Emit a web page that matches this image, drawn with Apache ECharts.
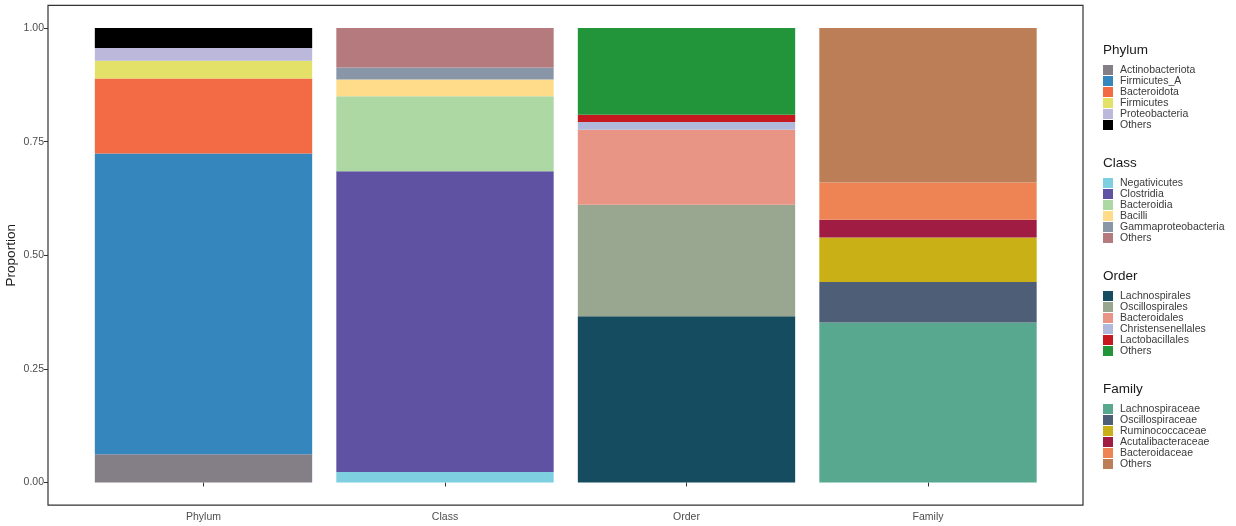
<!DOCTYPE html>
<html>
<head>
<meta charset="utf-8">
<script src="https://cdn.jsdelivr.net/npm/echarts@6/dist/echarts.min.js"></script>
<style>
  html, body { margin: 0; padding: 0; background: #fff; }
  #chart { width: 1236px; height: 526px; }
</style>
</head>
<body>
<div id="chart"></div>
<script>
// 分类
const categories = ['Phylum', 'Class', 'Order', 'Family']
const yTicks = [0, 0.25, 0.5, 0.75, 1]

// 各层级的名称与比例（自下而上）
const phylumNames = ['Actinobacteriota', 'Firmicutes_A', 'Bacteroidota', 'Firmicutes', 'Proteobacteria', 'Others']
const phylumValues = [0.062, 0.662, 0.165, 0.039, 0.028, 0.044]
const classNames = ['Negativicutes', 'Clostridia', 'Bacteroidia', 'Bacilli', 'Gammaproteobacteria', 'Others']
const classValues = [0.023, 0.662, 0.165, 0.037, 0.026, 0.087]
const orderNames = ['Lachnospirales', 'Oscillospirales', 'Bacteroidales', 'Christensenellales', 'Lactobacillales', 'Others']
const orderValues = [0.366, 0.245, 0.165, 0.017, 0.016, 0.191]
const familyNames = ['Lachnospiraceae', 'Oscillospiraceae', 'Ruminococcaceae', 'Acutalibacteraceae', 'Bacteroidaceae', 'Others']
const familyValues = [0.352, 0.089, 0.098, 0.039, 0.082, 0.340]

// 颜色
const phylumColors = ['#847f86', '#3586bd', '#f26b45', '#e4e169', '#bcb8dc', '#000000']
const classColors = ['#7ecfe0', '#6052a2', '#add8a3', '#fedc8a', '#8996a8', '#b47a7e']
const orderColors = ['#164c5f', '#9aa790', '#e89585', '#b0b8dc', '#c5181f', '#22953a']
const familyColors = ['#57a88f', '#4f5e77', '#c8b016', '#a11c43', '#ee8454', '#bc7e56']

const levels = [
  { key: 'Phylum', names: phylumNames, values: phylumValues, colors: phylumColors, top: 43 },
  { key: 'Class', names: classNames, values: classValues, colors: classColors, top: 156 },
  { key: 'Order', names: orderNames, values: orderValues, colors: orderColors, top: 269 },
  { key: 'Family', names: familyNames, values: familyValues, colors: familyColors, top: 382 }
]

let series = []
let legends = []
let titles = []
levels.forEach((lv, li) => {
  lv.names.forEach((n, i) => {
    let data = categories.map((c, ci) => ci === li ? lv.values[i] : '-')
    series.push({
      name: lv.key + '|' + n,
      type: 'bar',
      stack: 'all',
      barWidth: '90%',
      itemStyle: { color: lv.colors[i] },
      emphasis: { disabled: true },
      data: data
    })
  })
  legends.push({
    orient: 'vertical',
    left: 1103,
    top: lv.top + 21.5,
    itemWidth: 10,
    itemHeight: 10,
    itemGap: 0,
    icon: 'rect',
    selectedMode: false,
    padding: 0,
    data: lv.names.map(n => lv.key + '|' + n),
    formatter: name => name.split('|')[1],
    textStyle: { fontSize: 10.5, color: '#3a3a3a', lineHeight: 10, padding: [0, 0, 0, 2], fontFamily: 'Liberation Sans' }
  })
  titles.push({
    text: lv.key,
    left: 1103,
    top: lv.top,
    padding: 0,
    textStyle: { fontSize: 13.5, fontWeight: 'normal', color: '#1a1a1a', fontFamily: 'Liberation Sans' }
  })
})

let chart = echarts.init(document.getElementById('chart'))
chart.setOption({
  animation: false,
  backgroundColor: '#fff',
  title: titles,
  legend: legends,
  grid: { left: 82.75, right: 187.25, top: 5.3, bottom: 20.8, containLabel: false, outerBoundsMode: 'none' },
  xAxis: {
    type: 'category',
    data: categories,
    axisLine: { show: false },
    axisTick: { show: true, alignWithLabel: true, length: 4, lineStyle: { color: '#333' } },
    axisLabel: { color: '#4d4d4d', fontSize: 10.5, margin: 6, fontFamily: 'Liberation Sans' }
  },
  yAxis: {
    type: 'value',
    min: -0.05,
    max: 1.05,
    offset: 34.75,
    name: 'Proportion',
    nameLocation: 'middle',
    nameGap: 30,
    nameMoveOverlap: false,
    nameTextStyle: { fontSize: 13.5, color: '#1a1a1a', fontFamily: 'Liberation Sans' },
    splitLine: { show: false },
    axisLine: { show: false },
    axisTick: { show: true, length: 4, customValues: yTicks, lineStyle: { color: '#333' } },
    axisLabel: {
      color: '#4d4d4d', fontSize: 10.5, margin: 4, fontFamily: 'Liberation Sans',
      customValues: yTicks,
      formatter: v => v.toFixed(2)
    }
  },
  graphic: [{
    type: 'rect',
    shape: { x: 48, y: 5.3, width: 1035, height: 499.9 },
    style: { fill: 'none', stroke: '#333', lineWidth: 1.2 },
    z: 10
  }],
  series: series
})
</script>
</body>
</html>
